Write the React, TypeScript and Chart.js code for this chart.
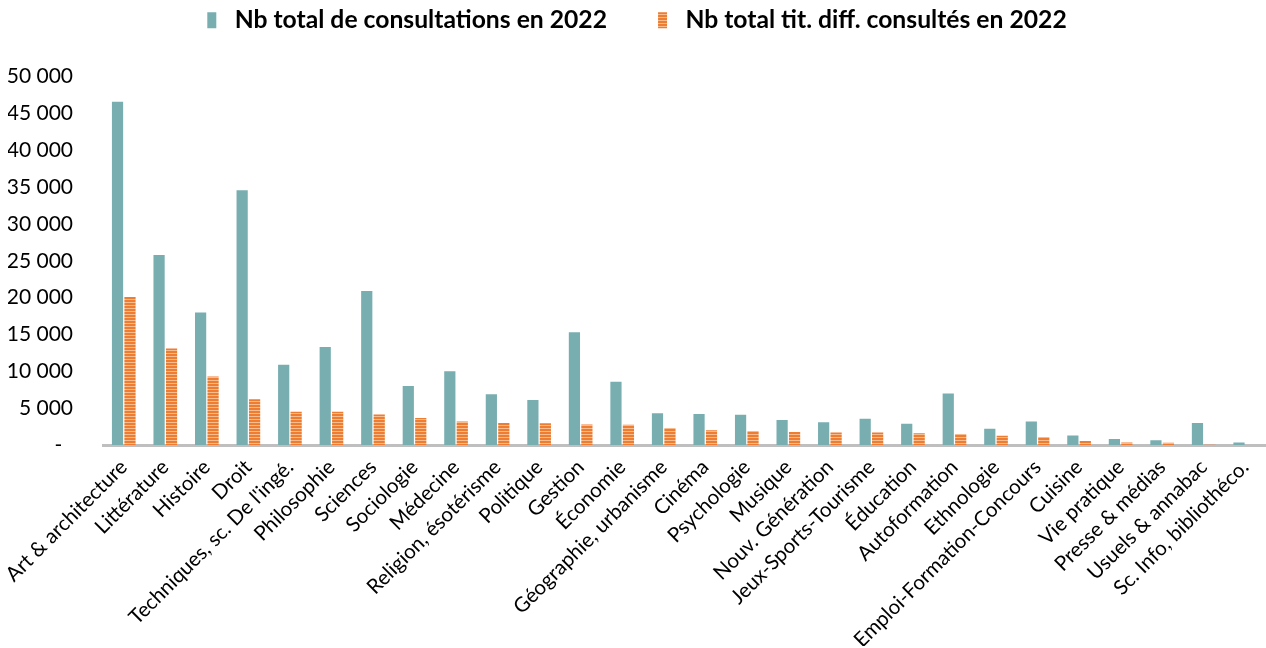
import React, { useEffect, useRef } from "react";
import { Chart, registerables } from "chart.js";

Chart.register(...registerables);

const categories = [
  "Art & architecture",
  "Littérature",
  "Histoire",
  "Droit",
  "Techniques, sc. De l'ingé.",
  "Philosophie",
  "Sciences",
  "Sociologie",
  "Médecine",
  "Religion, ésotérisme",
  "Politique",
  "Gestion",
  "Économie",
  "Géographie, urbanisme",
  "Cinéma",
  "Psychologie",
  "Musique",
  "Nouv. Génération",
  "Jeux-Sports-Tourisme",
  "Éducation",
  "Autoformation",
  "Ethnologie",
  "Emploi-Formation-Concours",
  "Cuisine",
  "Vie pratique",
  "Presse & médias",
  "Usuels & annabac",
  "Sc. Info, bibliothéco.",
];

const consultations = [
  46600, 25800, 18000, 34600, 10900, 13300, 20900, 8000, 10000, 6900, 6100,
  15300, 8600, 4300, 4200, 4100, 3400, 3100, 3550, 2900, 7000, 2200, 3200,
  1300, 800, 630, 3000, 350,
];

const titresConsultes = [
  20100, 13100, 9300, 6200, 4500, 4500, 4150, 3650, 3200, 3000, 2950, 2800,
  2750, 2300, 2000, 1900, 1750, 1700, 1700, 1600, 1500, 1250, 1100, 550, 350,
  300, 40, 0,
];

const yTicks = [0, 5000, 10000, 15000, 20000, 25000, 30000, 35000, 40000, 45000, 50000];

const seriesLabels = [
  "Nb total de consultations en 2022",
  "Nb total tit. diff. consultés en 2022",
];

function makeStripePattern(): CanvasPattern | string {
  const c = document.createElement("canvas");
  c.width = 4;
  c.height = 3;
  const g = c.getContext("2d");
  if (!g) return "#EE7D32";
  g.fillStyle = "#EE7D32";
  g.fillRect(0, 0, 4, 3);
  g.fillStyle = "#F7BC8E";
  g.fillRect(0, 2, 4, 1);
  const p = g.createPattern(c, "repeat");
  return p || "#EE7D32";
}

function fmt(v: number): string {
  if (v === 0) return "-  ";
  return String(v).replace(/\B(?=(\d{3})+(?!\d))/g, " ");
}

const legendSpacer = {
  id: "legendSpacer",
  beforeLayout(chart: any) {
    const lg = chart.legend;
    if (lg && !lg.__wrapped) {
      const orig = lg.fit;
      lg.fit = function () {
        orig.call(this);
        this.height += 34;
      };
      lg.__wrapped = true;
    }
  },
};

export default function App() {
  const ref = useRef<HTMLCanvasElement>(null);

  useEffect(() => {
    if (!ref.current) return;
    const stripe = makeStripePattern();
    const chart = new Chart(ref.current, {
      type: "bar",
      data: {
        labels: categories,
        datasets: [
          {
            label: seriesLabels[0],
            data: consultations,
            backgroundColor: "#79AEB1",
            borderWidth: 0,
            barPercentage: 0.9,
            categoryPercentage: 0.6,
          },
          {
            label: seriesLabels[1],
            data: titresConsultes,
            backgroundColor: stripe as any,
            borderWidth: 0,
            barPercentage: 0.9,
            categoryPercentage: 0.6,
          },
        ],
      },
      plugins: [legendSpacer],
      options: {
        responsive: true,
        maintainAspectRatio: false,
        animation: false,
        layout: { padding: { left: 8, right: 0, top: 0, bottom: 2 } },
        plugins: {
          tooltip: { enabled: false },
          legend: {
            position: "top",
            labels: {
              color: "#000",
              font: { family: "Lato", size: 24.7, weight: "bold" },
              boxWidth: 9,
              boxHeight: 16,
              padding: 8,
              generateLabels: (ch: any) =>
                Chart.defaults.plugins.legend.labels
                  .generateLabels(ch)
                  .map((l: any, i: number) => ({
                    ...l,
                    text: " " + l.text + (i === 0 ? "\u2003\u2003 " : ""),
                  })),
            },
          },
        },
        scales: {
          x: {
            grid: { display: false, drawTicks: false },
            border: { display: true, color: "#BFBFBF", width: 3 },
            afterFit: (scale: any) => {
              scale.paddingLeft = 0;
              scale.paddingRight = 0;
              scale.height = 201;
            },
            ticks: {
              autoSkip: false,
              maxRotation: 45,
              minRotation: 45,
              color: "#000",
              padding: 10,
              font: { family: "Lato", size: 20.5 },
            },
          },
          y: {
            min: 0,
            max: 50000,
            afterBuildTicks: (axis: any) => {
              axis.ticks = yTicks.map((v) => ({ value: v }));
            },
            afterFit: (axis: any) => {
              axis.width = 95;
            },
            grid: { display: false, drawTicks: false },
            border: { display: false },
            ticks: {
              color: "#000",
              padding: 30,
              font: { family: "Lato", size: 21 },
              callback: (v: any) => fmt(Number(v)),
            },
          },
        },
      },
    });
    return () => chart.destroy();
  }, []);

  return (
    <div
      style={{
        position: "fixed",
        left: 0,
        top: 0,
        width: 1266,
        height: 648,
        background: "#fff",
      }}
    >
      <canvas ref={ref} />
    </div>
  );
}
